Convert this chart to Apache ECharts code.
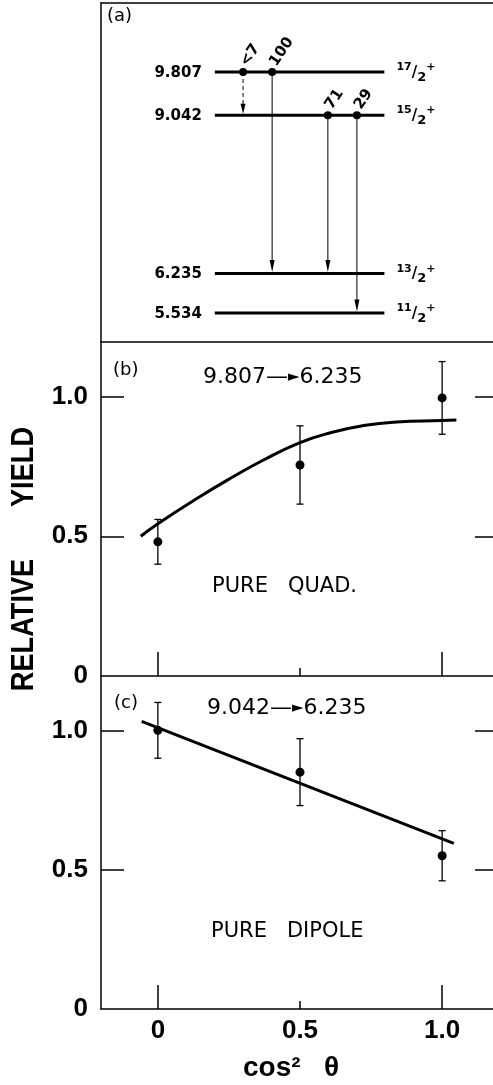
<!DOCTYPE html>
<html>
<head>
<meta charset="utf-8">
<style>
  html, body { margin: 0; padding: 0; background: #fff; overflow: hidden; }
  #chart { width: 493px; height: 1085px; }
</style>
<script src="https://cdn.jsdelivr.net/npm/echarts@6/dist/echarts.min.js"></script>
</head>
<body>
<div id="chart"></div>
<script>
// ---------- (a) level scheme ----------
const levelEnergy = [9.807, 9.042, 6.235, 5.534]
const levelSpin = ['17', '15', '13', '11'] // J = n/2+
const gammaFrom = [9.807, 9.807, 9.042, 9.042]
const gammaTo = [9.042, 6.235, 6.235, 5.534]
const gammaIntensity = ['<7', '100', '71', '29']
const gammaDashed = [true, false, false, false]

// ---------- (b), (c) angular distributions ----------
const cos2 = [0, 0.5, 1.0]
const yieldB = [0.48, 0.755, 0.995]
const errB = [0.08, 0.14, 0.13]
const fitB = [
  [-0.06, 0.50], [0, 0.545], [0.14, 0.637], [0.26, 0.71], [0.37, 0.772],
  [0.5, 0.835], [0.61, 0.871], [0.73, 0.897], [0.84, 0.909], [1.0, 0.914], [1.05, 0.916],
]
const yieldC = [1.0, 0.85, 0.55]
const errC = [0.10, 0.12, 0.09]
const fitC = [[-0.057, 1.032], [1.041, 0.594]]

const yTicks = [0, 0.5, 1.0]
const xTicks = [0, 0.5, 1.0]

// layout of the scheme (fraction of panel width)
const levelX = [0.286, 0.712]
const gammaX = [0.357, 0.43, 0.57, 0.643]

const BLACK = '#000'
const ARIAL = '"Liberation Sans", Arial, sans-serif'
const SANS = '"DejaVu Sans", sans-serif'

const chart = echarts.init(document.getElementById('chart'))

// grids run past the right edge of the page, like the cropped original
const gridBase = { show: false, outerBoundsMode: 'none', containLabel: false }
const frame = () => ({ show: true, onZero: false, lineStyle: { color: BLACK, width: 1.5 } })
const tickStyle = () => ({ color: BLACK, width: 1.5 })

function tickLabel(v) {
  return v === 0 ? '0' : v.toFixed(1)
}

function xMain(gridIndex, showLabels) {
  return {
    type: 'value', gridIndex, min: -0.2, max: 1.2, position: 'bottom',
    axisLine: frame(), splitLine: { show: false },
    axisTick: { show: true, inside: true, length: 24, customValues: [0, 1.0], lineStyle: tickStyle() },
    axisLabel: {
      show: showLabels, customValues: xTicks, formatter: tickLabel, margin: 9,
      color: BLACK, fontFamily: ARIAL, fontWeight: 'bold', fontSize: 26,
    },
  }
}

// short middle tick at 0.5
function xShort(gridIndex) {
  return {
    type: 'value', gridIndex, min: -0.2, max: 1.2, position: 'bottom',
    axisLine: { show: false, onZero: false }, splitLine: { show: false },
    axisTick: { show: true, inside: true, length: 8, customValues: [0.5], lineStyle: tickStyle() },
    axisLabel: { show: false },
  }
}

function yLeft(gridIndex) {
  return {
    type: 'value', gridIndex, min: 0, max: 1.195, position: 'left',
    axisLine: frame(), splitLine: { show: false },
    axisTick: { show: true, inside: true, length: 23, customValues: [0.5, 1.0], lineStyle: tickStyle() },
    axisLabel: {
      customValues: yTicks, formatter: tickLabel, margin: 13,
      color: BLACK, fontFamily: ARIAL, fontWeight: 'bold', fontSize: 26,
    },
  }
}

function yRight(gridIndex) {
  return {
    type: 'value', gridIndex, min: 0, max: 1.195, position: 'right',
    axisLine: { show: false, onZero: false }, splitLine: { show: false },
    axisTick: { show: true, inside: true, length: 24, customValues: [0.5, 1.0], lineStyle: tickStyle() },
    axisLabel: { show: false },
  }
}

function errorBars(ys, es, xAxisIndex, yAxisIndex) {
  return {
    type: 'custom', xAxisIndex, yAxisIndex,
    data: cos2.map((x, i) => [x, ys[i] - es[i], ys[i] + es[i]]),
    encode: { x: 0, y: [1, 2] },
    renderItem: (params, api) => {
      const lo = api.coord([api.value(0), api.value(1)])
      const hi = api.coord([api.value(0), api.value(2)])
      const w = 3.5
      const st = { stroke: BLACK, lineWidth: 1.3 }
      return {
        type: 'group',
        children: [
          { type: 'line', shape: { x1: lo[0], y1: lo[1], x2: hi[0], y2: hi[1] }, style: st },
          { type: 'line', shape: { x1: lo[0] - w, y1: lo[1], x2: lo[0] + w, y2: lo[1] }, style: st },
          { type: 'line', shape: { x1: hi[0] - w, y1: hi[1], x2: hi[0] + w, y2: hi[1] }, style: st },
        ],
      }
    },
  }
}

function points(ys, xAxisIndex, yAxisIndex) {
  return {
    type: 'scatter', xAxisIndex, yAxisIndex,
    data: cos2.map((x, i) => [x, ys[i]]),
    symbol: 'circle', symbolSize: 9,
    itemStyle: { color: BLACK, opacity: 1 },
  }
}

function fitLine(data, smooth, xAxisIndex, yAxisIndex) {
  return {
    type: 'line', xAxisIndex, yAxisIndex, data, smooth,
    showSymbol: false, lineStyle: { color: BLACK, width: 3 },
  }
}

const spinRich = {
  n: { fontSize: 11, fontFamily: SANS, fontWeight: 'bold', verticalAlign: 'top', lineHeight: 11 },
  s: { fontSize: 15, fontFamily: SANS, fontWeight: 'bold', lineHeight: 22 },
  d: { fontSize: 13, fontFamily: SANS, fontWeight: 'bold', verticalAlign: 'bottom', lineHeight: 13 },
  p: { fontSize: 11, fontFamily: SANS, fontWeight: 'bold', verticalAlign: 'top', lineHeight: 10 },
}

const titleRich = {
  t: { fontSize: 22, fontFamily: SANS, color: BLACK },
  d: { fontSize: 22, fontFamily: SANS, color: BLACK },
  h: { fontSize: 15, fontFamily: SANS, color: BLACK },
}

function note(text, x, y, size) {
  return {
    type: 'text', x, y,
    style: { text, fill: BLACK, font: `${size}px ${SANS}`, align: 'left', verticalAlign: 'middle' },
  }
}

chart.setOption({
  animation: false,
  backgroundColor: '#fff',
  grid: [
    Object.assign({ left: 101, top: 3, width: 398, height: 339 }, gridBase),
    Object.assign({ left: 101, top: 342, width: 398, height: 334 }, gridBase),
    Object.assign({ left: 101, top: 676, width: 398, height: 333 }, gridBase),
  ],
  xAxis: [
    {
      type: 'value', gridIndex: 0, min: 0, max: 1, position: 'top',
      axisLine: frame(), axisTick: { show: false }, axisLabel: { show: false }, splitLine: { show: false },
    },
    xMain(1, false),
    xShort(1),
    xMain(2, true),
    xShort(2),
    {
      type: 'value', gridIndex: 1, min: -0.2, max: 1.2, position: 'top',
      axisLine: frame(), axisTick: { show: false }, axisLabel: { show: false }, splitLine: { show: false },
    },
  ],
  yAxis: [
    {
      type: 'value', gridIndex: 0, min: 5.02, max: 11.03, position: 'left',
      axisLine: frame(), axisTick: { show: false }, axisLabel: { show: false }, splitLine: { show: false },
    },
    yLeft(1),
    yRight(1),
    yLeft(2),
    yRight(2),
  ],
  graphic: [
    note('(a)', 107, 16, 18),
    note('(b)', 113, 370, 18),
    note('(c)', 114, 703, 18),
    {
      type: 'text', x: 203, y: 377,
      style: { text: '{t|9.807}{d|\u2014}{h|\u25BA}{t|6.235}', rich: titleRich, align: 'left', verticalAlign: 'middle' },
    },
    {
      type: 'text', x: 207, y: 708,
      style: { text: '{t|9.042}{d|\u2014}{h|\u25BA}{t|6.235}', rich: titleRich, align: 'left', verticalAlign: 'middle' },
    },
    note('PURE   QUAD.', 212, 587, 21),
    note('PURE   DIPOLE', 211, 932, 21),
    {
      type: 'text', x: 24, y: 467, rotation: Math.PI / 2, scaleX: 0.85,
      style: { text: 'YIELD', fill: BLACK, font: `bold 32px ${ARIAL}`, align: 'center', verticalAlign: 'middle' },
    },
    {
      type: 'text', x: 24, y: 625, rotation: Math.PI / 2, scaleX: 0.85,
      style: { text: 'RELATIVE', fill: BLACK, font: `bold 32px ${ARIAL}`, align: 'center', verticalAlign: 'middle' },
    },
    {
      type: 'text', x: 291, y: 1068,
      style: { text: 'cos\u00B2   \u03B8', fill: BLACK, font: `bold 28px ${ARIAL}`, align: 'center', verticalAlign: 'middle' },
    },
  ],
  series: [
    // levels
    {
      type: 'custom', xAxisIndex: 0, yAxisIndex: 0,
      data: levelEnergy.map((e) => [levelX[0], e, levelX[1]]),
      encode: { x: 0, y: 1 },
      renderItem: (params, api) => {
        const i = params.dataIndex
        const a = api.coord([api.value(0), api.value(1)])
        const b = api.coord([api.value(2), api.value(1)])
        return {
          type: 'group',
          children: [
            { type: 'line', shape: { x1: a[0], y1: a[1], x2: b[0], y2: b[1] }, style: { stroke: BLACK, lineWidth: 3 } },
            {
              type: 'text', x: a[0] - 13, y: a[1] + 1,
              style: { text: levelEnergy[i].toFixed(3), fill: BLACK, font: `bold 15px ${SANS}`, align: 'right', verticalAlign: 'middle' },
            },
            {
              type: 'text', x: b[0] + 12, y: a[1] + 1,
              style: { text: `{n|${levelSpin[i]}}{s|/}{d|2}{p|+}`, rich: spinRich, fill: BLACK, align: 'left', verticalAlign: 'middle' },
            },
          ],
        }
      },
    },
    // gamma transitions
    {
      type: 'custom', xAxisIndex: 0, yAxisIndex: 0,
      data: gammaFrom.map((f, i) => [gammaX[i], f, gammaTo[i]]),
      encode: { x: 0, y: 1 },
      renderItem: (params, api) => {
        const i = params.dataIndex
        const top = api.coord([api.value(0), api.value(1)])
        const bot = api.coord([api.value(0), api.value(2)])
        const head = gammaDashed[i] ? 10 : 12
        const tipY = bot[1] - 1.5
        return {
          type: 'group',
          children: [
            {
              type: 'line',
              shape: { x1: top[0], y1: top[1], x2: bot[0], y2: tipY - head + 2 },
              style: { stroke: BLACK, lineWidth: 1, lineDash: gammaDashed[i] ? [4, 3] : null },
            },
            {
              type: 'polygon',
              shape: { points: [[bot[0], tipY], [bot[0] - 2.5, tipY - head], [bot[0] + 2.5, tipY - head]] },
              style: { fill: BLACK },
            },
            { type: 'circle', shape: { cx: top[0], cy: top[1], r: 4 }, style: { fill: BLACK } },
            {
              type: 'text', x: top[0] + 7, y: top[1] - 3, rotation: 56 * Math.PI / 180,
              style: { text: gammaIntensity[i], fill: BLACK, font: `bold 15px ${SANS}`, align: 'left', verticalAlign: 'bottom' },
            },
          ],
        }
      },
    },
    // (b)
    fitLine(fitB, 0.5, 1, 1),
    errorBars(yieldB, errB, 1, 1),
    points(yieldB, 1, 1),
    // (c)
    fitLine(fitC, false, 3, 3),
    errorBars(yieldC, errC, 3, 3),
    points(yieldC, 3, 3),
  ],
})
</script>
</body>
</html>
